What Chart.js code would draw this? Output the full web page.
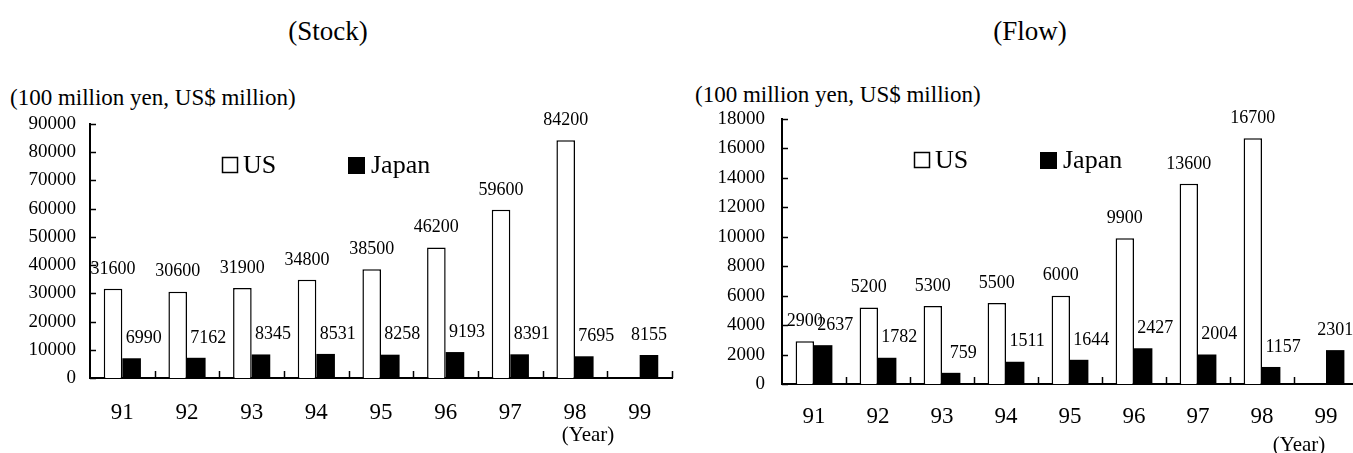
<!DOCTYPE html>
<html>
<head>
<meta charset="utf-8">
<script src="https://cdn.jsdelivr.net/npm/chart.js@4.4.0/dist/chart.umd.min.js"></script>
<style>
  html, body { margin: 0; padding: 0; background: #fff; overflow: hidden; width: 1353px; height: 453px; }
  body { position: relative; font-family: "Liberation Serif", serif; color: #000; }
  .box { position: absolute; top: 0; width: 700px; height: 453px; }
  .title { position: absolute; font-size: 27px; white-space: nowrap; transform: translate(-50%, -50%); }
  .unit { position: absolute; font-size: 23px; white-space: nowrap; transform: translateY(-50%); }
</style>
</head>
<body>
<div class="title" style="left:328px; top:31px">(Stock)</div>
<div class="title" style="left:1030px; top:31px">(Flow)</div>
<div class="unit" style="left:10px; top:98px">(100 million yen, US$ million)</div>
<div class="unit" style="left:695px; top:95px">(100 million yen, US$ million)</div>
<div class="box" style="left:0"><canvas id="stock" width="700" height="453"></canvas></div>
<div class="box" style="left:680px"><canvas id="flow" width="700" height="453"></canvas></div>

<script>
const years = ['91', '92', '93', '94', '95', '96', '97', '98', '99'];

// stock (outstanding balance)
const stockUS = [31600, 30600, 31900, 34800, 38500, 46200, 59600, 84200, null];
const stockJapan = [6990, 7162, 8345, 8531, 8258, 9193, 8391, 7695, 8155];
const stockTicks = [0, 10000, 20000, 30000, 40000, 50000, 60000, 70000, 80000, 90000];

// flow (yearly amounts)
const flowUS = [2900, 5200, 5300, 5500, 6000, 9900, 13600, 16700, null];
const flowJapan = [2637, 1782, 759, 1511, 1644, 2427, 2004, 1157, 2301];
const flowTicks = [0, 2000, 4000, 6000, 8000, 10000, 12000, 14000, 16000, 18000];

const FONT = '"Liberation Serif", serif';

function line(ctx, x1, y1, x2, y2) {
  ctx.beginPath();
  ctx.moveTo(x1, y1);
  ctx.lineTo(x2, y2);
  ctx.stroke();
}

// tick marks, value labels, legend and the "(Year)" note
const decor = {
  id: 'decor',
  afterDatasetsDraw(chart, args, opts) {
    const ctx = chart.ctx;
    const area = chart.chartArea;
    const xs = chart.scales.x, ys = chart.scales.y;
    ctx.save();
    ctx.strokeStyle = '#000';
    ctx.fillStyle = '#000';
    ctx.lineWidth = 1.5;

    ys.ticks.forEach(t => {
      const py = Math.round(ys.getPixelForValue(t.value)) + 0.5;
      line(ctx, area.left, py, area.left + 6, py);
    });
    const n = xs.ticks.length, w = area.width / n;
    for (let k = 1; k <= n; k++) {
      const px = Math.round(area.left + k * w) + 0.5;
      line(ctx, px, area.bottom, px, area.bottom - 7);
    }

    ctx.font = '18px ' + FONT;
    ctx.textAlign = 'center';
    ctx.textBaseline = 'middle';
    const us = chart.data.datasets[0].data;
    chart.data.datasets.forEach((ds, i) => {
      chart.getDatasetMeta(i).data.forEach((bar, j) => {
        const v = ds.data[j];
        if (v == null) return;
        const dx = (i === 1 && us[j] != null) ? 12 : 0;
        ctx.fillText(String(v), bar.x + dx, bar.y - 20);
      });
    });

    // legend
    const ly = area.top + 41;
    ctx.font = '26px ' + FONT;
    ctx.textAlign = 'left';
    ctx.lineWidth = 1.5;
    ctx.fillStyle = '#fff';
    ctx.fillRect(area.left + 132, ly - 8, 16, 16);
    ctx.strokeRect(area.left + 132.5, ly - 7.5, 15, 15);
    ctx.fillStyle = '#000';
    ctx.fillText('US', area.left + 153, ly + 1);
    ctx.fillRect(area.left + 258, ly - 8, 17, 17);
    ctx.fillText('Japan', area.left + 281, ly + 1);

    ctx.font = '21px ' + FONT;
    ctx.textAlign = 'center';
    ctx.fillText('(Year)', area.right - opts.yearDx, area.bottom + opts.yearDy);
    ctx.restore();
  }
};

function makeChart(id, usData, jpData, ticks, box) {
  const yMax = ticks[ticks.length - 1];
  const step = ticks[1] - ticks[0];
  return new Chart(document.getElementById(id), {
    type: 'bar',
    data: {
      labels: years,
      datasets: [
        { label: 'US', data: usData, backgroundColor: '#fff', borderColor: '#000', borderWidth: 1.5 },
        { label: 'Japan', data: jpData, backgroundColor: '#000', borderColor: '#000', borderWidth: 0 }
      ]
    },
    options: {
      responsive: false,
      animation: false,
      layout: { padding: { left: 0, top: box.top, right: box.right, bottom: box.bottom } },
      datasets: { bar: { categoryPercentage: 0.575, barPercentage: 1, borderSkipped: 'bottom' } },
      plugins: {
        legend: { display: false },
        tooltip: { enabled: false },
        decor: { yearDx: box.yearDx, yearDy: box.yearDy }
      },
      scales: {
        x: {
          grid: { display: false, drawTicks: false },
          border: { display: true, color: '#000', width: 2 },
          ticks: { color: '#000', font: { family: FONT, size: 23 }, padding: box.xPad, maxRotation: 0 },
          afterFit: s => { s.height = 50; }
        },
        y: {
          min: 0,
          max: yMax,
          grid: { display: false, drawTicks: false },
          border: { display: true, color: '#000', width: 2 },
          ticks: {
            stepSize: step, color: '#000', font: { family: FONT, size: 19 }, padding: box.yPad,
            callback: v => String(v)
          },
          afterFit: s => { s.width = box.yWidth; }
        }
      }
    },
    plugins: [decor]
  });
}

makeChart('stock', stockUS, stockJapan, stockTicks,
  { top: 124, right: 28, bottom: 25, yWidth: 90, yPad: 14, xPad: 21, yearDx: 84, yearDy: 57 });
makeChart('flow', flowUS, flowJapan, flowTicks,
  { top: 119, right: 22, bottom: 19, yWidth: 102, yPad: 17, xPad: 19, yearDx: 59, yearDy: 61 });
</script>
</body>
</html>
